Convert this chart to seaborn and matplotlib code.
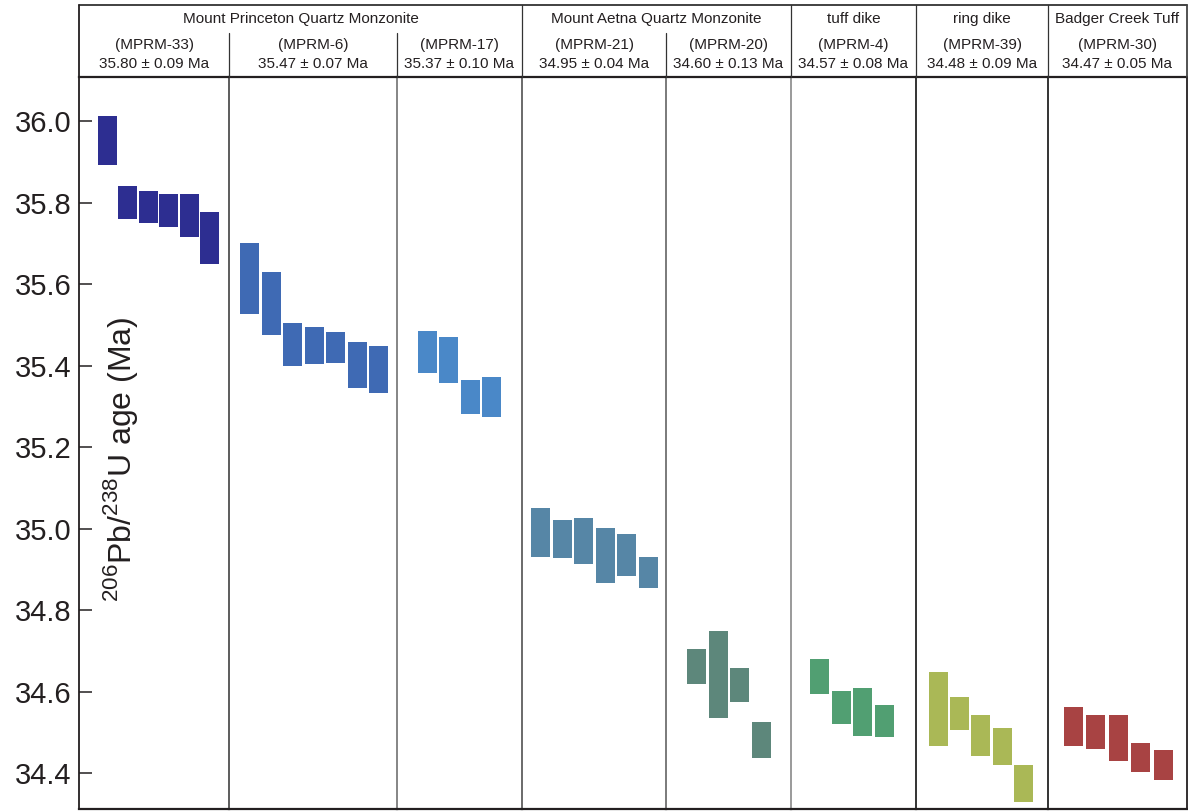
import matplotlib
matplotlib.use("Agg")
import matplotlib.pyplot as plt
import numpy as np
import pandas as pd
import seaborn as sns

# ---- units, samples and weighted-mean ages ----
groups = ["Mount Princeton Quartz Monzonite", "Mount Aetna Quartz Monzonite",
          "tuff dike", "ring dike", "Badger Creek Tuff"]
group_sizes = [3, 2, 1, 1, 1]
samples = ["MPRM-33", "MPRM-6", "MPRM-17", "MPRM-21",
           "MPRM-20", "MPRM-4", "MPRM-39", "MPRM-30"]
mean_ages = ["35.80 ± 0.09", "35.47 ± 0.07", "35.37 ± 0.10", "34.95 ± 0.04",
             "34.60 ± 0.13", "34.57 ± 0.08", "34.48 ± 0.09", "34.47 ± 0.05"]

# ---- single-grain 206Pb/238U dates: 2-sigma box bounds (Ma) ----
mprm33_hi = [36.014, 35.841, 35.830, 35.822, 35.822, 35.777]
mprm33_lo = [35.893, 35.760, 35.750, 35.741, 35.716, 35.651]
mprm6_hi = [35.701, 35.630, 35.505, 35.495, 35.483, 35.458, 35.449]
mprm6_lo = [35.527, 35.476, 35.400, 35.404, 35.407, 35.346, 35.333]
mprm17_hi = [35.485, 35.471, 35.365, 35.373]
mprm17_lo = [35.382, 35.358, 35.282, 35.274]
mprm21_hi = [35.051, 35.022, 35.027, 35.002, 34.987, 34.931]
mprm21_lo = [34.931, 34.928, 34.914, 34.867, 34.884, 34.855]
mprm20_hi = [34.705, 34.749, 34.658, 34.526]
mprm20_lo = [34.619, 34.536, 34.575, 34.438]
mprm4_hi = [34.680, 34.602, 34.609, 34.568]
mprm4_lo = [34.595, 34.521, 34.492, 34.489]
mprm39_hi = [34.649, 34.587, 34.543, 34.511, 34.420]
mprm39_lo = [34.467, 34.506, 34.442, 34.420, 34.330]
mprm30_hi = [34.563, 34.543, 34.543, 34.474, 34.457]
mprm30_lo = [34.467, 34.460, 34.430, 34.403, 34.384]

highs = [mprm33_hi, mprm6_hi, mprm17_hi, mprm21_hi, mprm20_hi, mprm4_hi, mprm39_hi, mprm30_hi]
lows = [mprm33_lo, mprm6_lo, mprm17_lo, mprm21_lo, mprm20_lo, mprm4_lo, mprm39_lo, mprm30_lo]

colors = ["#2D2E91", "#3F6AB4", "#4A88C8", "#5686A6",
          "#5D877B", "#519F72", "#AAB856", "#A84343"]

y_ticks = [34.4, 34.6, 34.8, 35.0, 35.2, 35.4, 35.6, 35.8, 36.0]

# ---- layout (pixels) ----
W, H = 1188, 811
panel_px = [150, 168, 125, 144, 125, 125, 132, 139]
first_bar_px = [18.5, 11, 21, 9, 21, 19, 13, 16]
pitch_px = [20.5, 21.5, 21.3, 21.6, 21.7, 21.7, 21.25, 22.5]
bar_px = 19.0
plot_left, plot_top, plot_bottom, head_top = 79, 77, 809, 5
divider_colors = ["#5c5c5c", "#858585", "#6a6a6a", "#7a7a7a", "#9a9a9a", "#333333", "#333333"]
ink = "#231F20"

sns.set_style("white")
plt.rcParams["font.family"] = ["Liberation Sans", "DejaVu Sans"]
plt.rcParams["mathtext.fontset"] = "custom"
plt.rcParams["mathtext.rm"] = "Liberation Sans"

fig = plt.figure(figsize=(W / 100, H / 100), dpi=100)
total_px = sum(panel_px)
gs = fig.add_gridspec(
    1, len(samples), width_ratios=panel_px, wspace=0,
    left=plot_left / W, right=(plot_left + total_px) / W,
    bottom=1 - plot_bottom / H, top=1 - plot_top / H,
)

ylim = (34.3124, 36.1087)
axes = []
for i, name in enumerate(samples):
    ax = fig.add_subplot(gs[0, i])
    lo = np.array(lows[i])
    hi = np.array(highs[i])
    df = pd.DataFrame({"grain": np.arange(len(lo)), "span": hi - lo})
    p = pitch_px[i]
    sns.barplot(data=df, x="grain", y="span", bottom=lo, color=colors[i],
                saturation=1, width=bar_px / p, errorbar=None,
                linewidth=0, ax=ax)
    left = -0.5 * bar_px / p - first_bar_px[i] / p
    ax.set_xlim(left, left + panel_px[i] / p)
    ax.set_ylim(*ylim)
    ax.set_xlabel("")
    ax.set_ylabel("")
    ax.set_xticks([])
    for s in ax.spines.values():
        s.set_visible(True)
        s.set_color(ink)
        s.set_linewidth(1.3)
    ax.spines["top"].set_linewidth(1.6)
    ax.spines["bottom"].set_linewidth(1.6)
    if i > 0:
        ax.spines["left"].set_color(divider_colors[i - 1])
        ax.spines["left"].set_linewidth(1.4)
        ax.set_yticks([])
    if i < len(samples) - 1:
        ax.spines["right"].set_visible(False)
    axes.append(ax)

ax0 = axes[0]
ax0.set_yticks(y_ticks)
ax0.set_yticklabels([f"{t:.1f}" for t in y_ticks])
ax0.tick_params(axis="y", direction="in", length=9.4, width=1.1, color=ink,
                labelsize=21, labelcolor=ink, pad=5.5, left=True)

# y-axis title sits inside the first panel
fig.text(121 / W, 1 - 459 / H, r"$^{206}$Pb/$^{238}$U age (Ma)", rotation=90,
         ha="center", va="center", fontsize=23, color=ink)

# ---- header block with unit names, sample numbers and mean ages ----
hax = fig.add_axes([plot_left / W, 1 - plot_top / H, total_px / W, (plot_top - head_top) / H])
hax.set_xlim(0, total_px)
hax.set_ylim(plot_top - head_top, 0)
hax.axis("off")
hh = plot_top - head_top
bounds = np.concatenate([[0], np.cumsum(panel_px)])
hax.plot([0, total_px], [0, 0], color="#333333", lw=1.3, clip_on=False)
hax.plot([0, 0], [0, hh], color=ink, lw=1.3, clip_on=False)
hax.plot([total_px, total_px], [0, hh], color="#444444", lw=1.3, clip_on=False)

group_edges = np.concatenate([[0], np.cumsum(group_sizes)])
for g, gname in enumerate(groups):
    x0 = bounds[group_edges[g]]
    x1 = bounds[group_edges[g + 1]]
    hax.text((x0 + x1) / 2, 14, gname, ha="center", va="center",
             fontsize=11, color=ink)
    if g > 0:
        hax.plot([x0, x0], [0, hh], color="#333333", lw=0.9, clip_on=False)
    for k in range(group_edges[g] + 1, group_edges[g + 1]):
        hax.plot([bounds[k], bounds[k]], [28, hh], color="#333333", lw=0.9, clip_on=False)

for i, name in enumerate(samples):
    xc = (bounds[i] + bounds[i + 1]) / 2
    hax.text(xc, 40, f"({name})", ha="center", va="center", fontsize=11, color=ink)
    hax.text(xc, 59, f"{mean_ages[i]} Ma", ha="center", va="center", fontsize=11, color=ink)

fig.savefig("out.png", dpi=100)
